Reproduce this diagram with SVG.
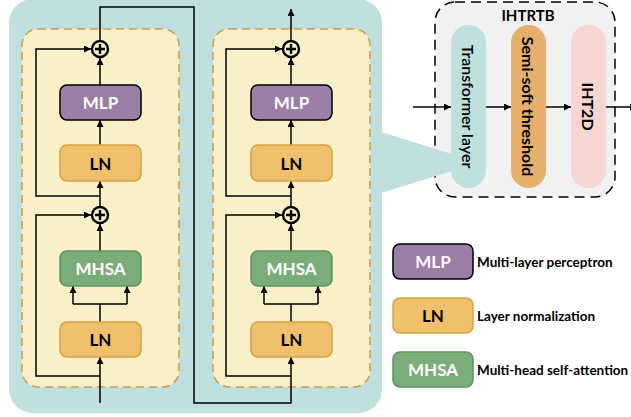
<svg xmlns="http://www.w3.org/2000/svg" width="631" height="417" viewBox="0 0 631 417">
  <defs>
    <marker id="arr" viewBox="0 0 10 10" refX="10" refY="5" markerWidth="7" markerHeight="7" markerUnits="userSpaceOnUse" orient="auto">
      <path d="M0,0 L10,5 L0,10 z" fill="#000"/>
    </marker>
    <style>
      text { font-family: Lato, "Open Sans", "Liberation Sans", sans-serif; font-weight: bold; text-anchor: middle; dominant-baseline: central; }
      .bg { fill: #c0dfdf; }
      .stage { fill: #faf0c8; stroke: #c9a24f; stroke-width: 1.6; stroke-dasharray: 8 5; }
      .mlp { fill: #9b7ea6; stroke: #000; stroke-width: 1.5; }
      .ln { fill: #eec16a; stroke: #d2a247; stroke-width: 1.5; }
      .mhsa { fill: #7bad7a; stroke: #5c925e; stroke-width: 1.5; }
      .w { fill: #fff; font-size: 17px; }
      .k { fill: #000; font-size: 17px; }
      .wire { fill: none; stroke: #000; stroke-width: 1.5; }
      .add circle { fill: none; stroke: #000; stroke-width: 2.4; }
      .add path { stroke: #000; stroke-width: 2.4; }
      .leg { fill: #000; font-size: 13.5px; text-anchor: start; }
      .pill-t { font-size: 16px; }
    </style>
  </defs>

  <!-- transformer layer panel -->
  <rect class="bg" x="9" y="-1" width="373" height="414" rx="24"/>

  <!-- IHTRTB block -->
  <g id="ihtrtb">
    <rect x="435" y="2" width="180" height="195" rx="20" fill="#f1f1f1" stroke="#000" stroke-width="1.5" stroke-dasharray="10 6"/>
    <text x="528" y="15" style="font-size:15px">IHTRTB</text>
  </g>

  <!-- zoom wedge from panel to transformer layer -->
  <polygon class="bg" points="381,132 455,155 455,170 381,193"/>

  <g id="stage1">
    <rect class="stage" x="22" y="29" width="157" height="358" rx="16"/>
  </g>
  <g id="stage2">
    <rect class="stage" x="213" y="29" width="157" height="358" rx="16"/>
  </g>

  <!-- connectors -->
  <g id="connectors" class="wire">
    <!-- stage 1 -->
    <path d="M100,403 V357" marker-end="url(#arr)"/>
    <path d="M100,376 H36 V215 H91" marker-end="url(#arr)"/>
    <path d="M100,322 V304 M73,304 H127"/>
    <path d="M73,304 V286" marker-end="url(#arr)"/>
    <path d="M127,304 V286" marker-end="url(#arr)"/>
    <path d="M100,251 V224" marker-end="url(#arr)"/>
    <path d="M100,206 V181" marker-end="url(#arr)"/>
    <path d="M100,196 H36 V49 H91" marker-end="url(#arr)"/>
    <path d="M100,145 V120" marker-end="url(#arr)"/>
    <path d="M100,85 V58" marker-end="url(#arr)"/>
    <!-- stage 1 output to stage 2 input -->
    <path d="M100,40 V7 H194 V403 H291 V357" marker-end="url(#arr)"/>
    <!-- stage 2 -->
    <path d="M291,376 H226 V215 H282" marker-end="url(#arr)"/>
    <path d="M291,322 V304 M264,304 H318"/>
    <path d="M264,304 V286" marker-end="url(#arr)"/>
    <path d="M318,304 V286" marker-end="url(#arr)"/>
    <path d="M291,251 V224" marker-end="url(#arr)"/>
    <path d="M291,206 V181" marker-end="url(#arr)"/>
    <path d="M291,196 H226 V49 H282" marker-end="url(#arr)"/>
    <path d="M291,145 V120" marker-end="url(#arr)"/>
    <path d="M291,85 V58" marker-end="url(#arr)"/>
    <path d="M291,40 V9" marker-end="url(#arr)"/>
    <!-- IHTRTB flow -->
    <path d="M413,107 H451" marker-end="url(#arr)"/>
    <path d="M486,107 H511" marker-end="url(#arr)"/>
    <path d="M546,107 H571" marker-end="url(#arr)"/>
    <path d="M606,107 H637" marker-end="url(#arr)"/>
  </g>

  <!-- stage 1 nodes -->
  <g id="s1-add2" class="add"><circle cx="100" cy="49" r="8"/><path d="M95,49 H105 M100,44 V54"/></g>
  <g id="s1-mlp"><rect class="mlp" x="60" y="85" width="81" height="35" rx="7"/><text class="w" x="100.5" y="102.5">MLP</text></g>
  <g id="s1-ln2"><rect class="ln" x="60" y="145" width="81" height="36" rx="7"/><text class="k" x="100.5" y="163">LN</text></g>
  <g id="s1-add1" class="add"><circle cx="100" cy="215" r="8"/><path d="M95,215 H105 M100,210 V220"/></g>
  <g id="s1-mhsa"><rect class="mhsa" x="60" y="251" width="81" height="35" rx="7"/><text class="w" x="100.5" y="268.5">MHSA</text></g>
  <g id="s1-ln1"><rect class="ln" x="60" y="322" width="81" height="35" rx="7"/><text class="k" x="100.5" y="339.5">LN</text></g>

  <!-- stage 2 nodes -->
  <g id="s2-add2" class="add"><circle cx="291" cy="49" r="8"/><path d="M286,49 H296 M291,44 V54"/></g>
  <g id="s2-mlp"><rect class="mlp" x="251" y="85" width="81" height="35" rx="7"/><text class="w" x="291.5" y="102.5">MLP</text></g>
  <g id="s2-ln2"><rect class="ln" x="251" y="145" width="81" height="36" rx="7"/><text class="k" x="291.5" y="163">LN</text></g>
  <g id="s2-add1" class="add"><circle cx="291" cy="215" r="8"/><path d="M286,215 H296 M291,210 V220"/></g>
  <g id="s2-mhsa"><rect class="mhsa" x="251" y="251" width="81" height="35" rx="7"/><text class="w" x="291.5" y="268.5">MHSA</text></g>
  <g id="s2-ln1"><rect class="ln" x="251" y="322" width="81" height="35" rx="7"/><text class="k" x="291.5" y="339.5">LN</text></g>

  <!-- IHTRTB stages -->
  <g id="transformer-layer">
    <rect x="451" y="25" width="35" height="163" rx="17.5" fill="#c0dfdf"/>
    <text class="pill-t" transform="translate(468.5,106.5) rotate(90)" style="font-weight:600">Transformer layer</text>
  </g>
  <g id="semi-soft">
    <rect x="511" y="25" width="35" height="163" rx="17.5" fill="#e6b06c"/>
    <text class="pill-t" transform="translate(528.5,106.5) rotate(90)">Semi-soft threshold</text>
  </g>
  <g id="iht2d">
    <rect x="571" y="25" width="35" height="163" rx="17.5" fill="#f5d6d0"/>
    <text class="pill-t" transform="translate(588.5,106.5) rotate(90)">IHT2D</text>
  </g>

  <!-- legend -->
  <g id="legend-mlp">
    <rect class="mlp" x="393" y="244" width="80" height="35" rx="7"/>
    <text class="w" x="433" y="261.5">MLP</text>
    <text class="leg" x="477" y="261.5">Multi-layer perceptron</text>
  </g>
  <g id="legend-ln">
    <rect class="ln" x="393" y="298" width="80" height="35" rx="7"/>
    <text class="k" x="433" y="315.5">LN</text>
    <text class="leg" x="477" y="315.5">Layer normalization</text>
  </g>
  <g id="legend-mhsa">
    <rect class="mhsa" x="393" y="352" width="80" height="35" rx="7"/>
    <text class="w" x="433" y="369.5">MHSA</text>
    <text class="leg" x="477" y="369.5">Multi-head self-attention</text>
  </g>
</svg>
